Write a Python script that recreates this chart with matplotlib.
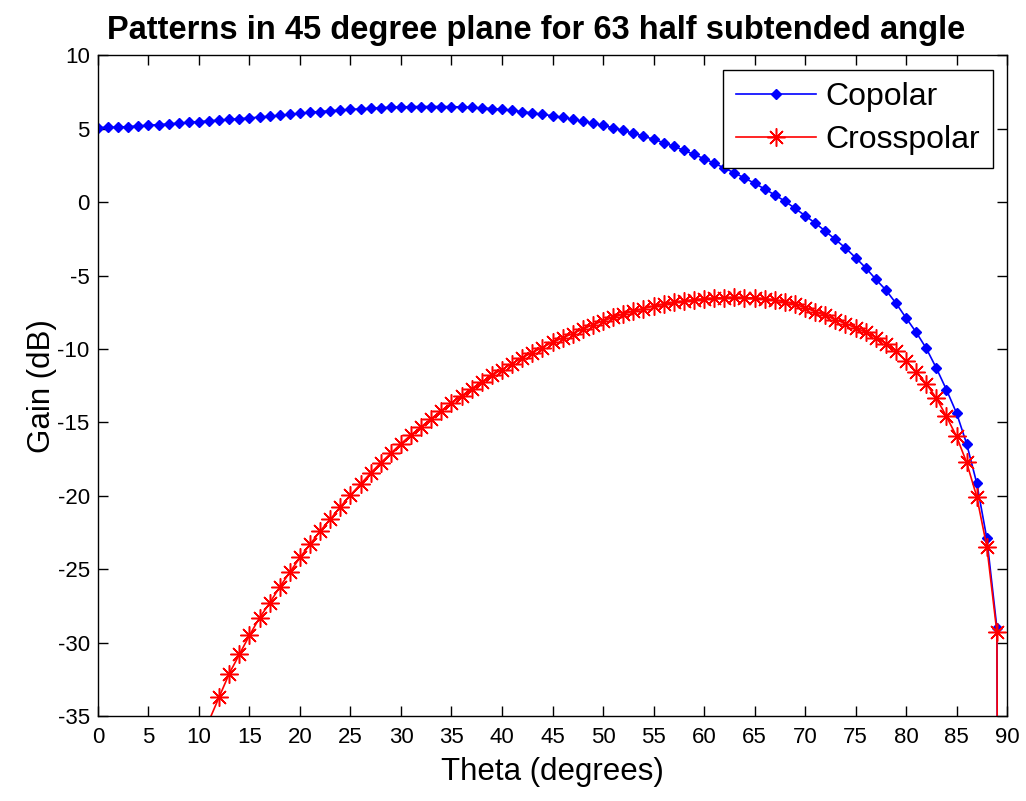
import matplotlib.pyplot as plt
import numpy as np

# theta in degrees, one sample per degree
theta = np.arange(0, 91)

# copolar gain (dB)
copolar = [5.08, 5.09, 5.11, 5.14, 5.19, 5.23, 5.28, 5.32, 5.38, 5.43,
           5.48, 5.53, 5.58, 5.63, 5.68, 5.73, 5.79, 5.85, 5.91, 5.97,
           6.05, 6.11, 6.17, 6.22, 6.27, 6.31, 6.35, 6.39, 6.43, 6.46,
           6.48, 6.50, 6.51, 6.51, 6.51, 6.50, 6.48, 6.45, 6.41, 6.37,
           6.32, 6.24, 6.16, 6.07, 5.98, 5.88, 5.77, 5.64, 5.50, 5.37,
           5.22, 5.06, 4.88, 4.69, 4.49, 4.28, 4.05, 3.80, 3.53, 3.25,
           2.96, 2.65, 2.33, 1.99, 1.65, 1.28, 0.90, 0.49, 0.07, -0.42,
           -0.92, -1.42, -1.97, -2.54, -3.12, -3.78, -4.47, -5.25, -5.98, -6.88,
           -7.88, -8.86, -9.95, -11.30, -12.77, -14.36, -16.45, -19.13, -22.90, -29.00,
           -250.0]

# crosspolar gain (dB), undefined at theta = 0
crosspolar = [np.nan, -75.0, -63.0, -56.0, -51.0, -47.5, -44.5, -42.0, -40.0, -38.2,
              -36.7, -35.3, -33.7, -32.1, -30.8, -29.5, -28.3, -27.3, -26.2, -25.2,
              -24.2, -23.3, -22.4, -21.6, -20.75, -19.95, -19.2, -18.45, -17.75, -17.1,
              -16.45, -15.85, -15.3, -14.75, -14.2, -13.7, -13.2, -12.7, -12.25, -11.8,
              -11.4, -11.0, -10.6, -10.25, -9.9, -9.55, -9.25, -8.95, -8.65, -8.35,
              -8.1, -7.85, -7.62, -7.42, -7.25, -7.08, -6.95, -6.83, -6.73, -6.65,
              -6.58, -6.53, -6.5, -6.49, -6.5, -6.53, -6.58, -6.66, -6.77, -6.95,
              -7.2, -7.45, -7.72, -8.0, -8.27, -8.56, -8.86, -9.22, -9.63, -10.15,
              -10.82, -11.55, -12.37, -13.34, -14.59, -15.95, -17.73, -20.05, -23.46, -29.3,
              -250.0]

ymin, ymax = -35, 10

plt.rcParams['font.family'] = ['Liberation Sans', 'DejaVu Sans']
plt.rcParams['axes.unicode_minus'] = False

fig = plt.figure(figsize=(10.26, 8.01), dpi=100)
ax = fig.add_axes([0.0955, 0.106, 0.886, 0.825])

# only mark the samples that fall inside the y range
co = np.array(copolar)
cx = np.array(crosspolar)
co_mark = co >= ymin
cx_mark = np.nan_to_num(cx, nan=-999) >= ymin

ax.plot(theta, co, color='b', linewidth=1.2, marker='D', markersize=5.5,
        markevery=co_mark, label='Copolar')
ax.plot(theta, cx, color='r', linewidth=1.2, marker=(8, 2, 0),
        markersize=13, markeredgewidth=1.1, markevery=cx_mark,
        label='Crosspolar')

ax.set_xlim(0, 90)
ax.set_ylim(ymin, ymax)
ax.set_xticks(np.arange(0, 91, 5))
ax.set_yticks(np.arange(-35, 11, 5))
ax.tick_params(direction='in', length=7, width=1, top=True, right=True,
               labelsize=16)
ax.tick_params(axis='x', pad=8)
ax.tick_params(axis='y', pad=6)
for s in ax.spines.values():
    s.set_linewidth(1.0)

ax.set_title('Patterns in 45 degree plane for 63 half subtended angle',
             fontsize=23.5, fontweight='bold', pad=12, x=0.482)
ax.set_xlabel('Theta (degrees)', fontsize=22.5, labelpad=6)
ax.set_ylabel('Gain (dB)', fontsize=22.5, labelpad=0)

leg = ax.legend(loc='upper right', fontsize=23, handlelength=2.5,
                handletextpad=0.3, labelspacing=0.4, borderpad=0.4,
                fancybox=False, framealpha=1, edgecolor='k',
                borderaxespad=0.45)
leg.get_frame().set_linewidth(1.0)

fig.savefig('out.png', dpi=100, facecolor='white')
